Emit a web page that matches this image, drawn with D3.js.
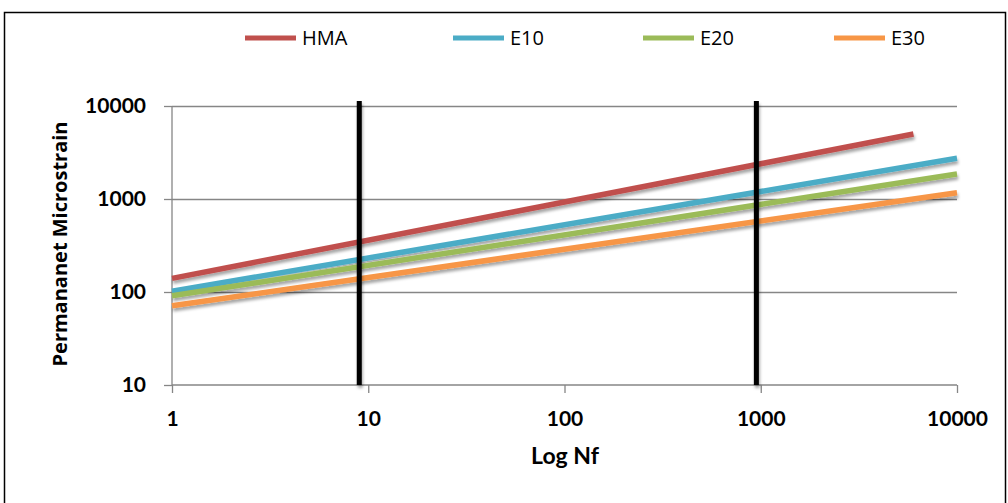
<!DOCTYPE html>
<html>
<head>
<meta charset="utf-8">
<script src="https://cdn.jsdelivr.net/npm/d3@7"></script>
<style>
  html, body { margin: 0; padding: 0; background: #fff; }
  svg { display: block; }
</style>
</head>
<body>
<svg id="chart" width="1008" height="503"></svg>
<script>
// ---- data ----
const seriesNames = ["HMA", "E10", "E20", "E30"];
const hmaX = [1, 6000];
const hmaY = [140, 5000];
const e10X = [1, 10000];
const e10Y = [102, 2740];
const e20X = [1, 10000];
const e20Y = [91, 1860];
const e30X = [1, 10000];
const e30Y = [71, 1170];
const refLinesX = [9, 950];
const refLineTop = 11300;
const xTickValues = [1, 10, 100, 1000, 10000];
const yTickValues = [10, 100, 1000, 10000];
const xTitle = "Log Nf";
const yTitle = "Permananet Microstrain";

// ---- layout ----
const colors = ["#C0504D", "#4BACC6", "#9BBB59", "#F79646"];
const svg = d3.select("#chart");
const x = d3.scaleLog().domain([1, 10000]).range([172, 957]);
const y = d3.scaleLog().domain([10, 10000]).range([385, 106]);
const fontTick = "Lato, 'Open Sans', sans-serif";

// border
svg.append("rect").attr("x", 4.5).attr("y", 12.5).attr("width", 1001).attr("height", 500)
  .attr("fill", "none").attr("stroke", "#000").attr("stroke-width", 1.5);

// shadow filter
const defs = svg.append("defs");
const f = defs.append("filter").attr("id", "shadow").attr("x", "-10%").attr("y", "-20%")
  .attr("width", "120%").attr("height", "160%");
f.append("feDropShadow").attr("dx", 1).attr("dy", 3).attr("stdDeviation", 1.6)
  .attr("flood-color", "#000").attr("flood-opacity", 0.35);

// gridlines
svg.append("g").selectAll("line").data(yTickValues.filter(v => v > 10)).join("line")
  .attr("x1", x(1)).attr("x2", x(10000))
  .attr("y1", d => Math.round(y(d)) + 0.5).attr("y2", d => Math.round(y(d)) + 0.5)
  .attr("stroke", "#868686").attr("stroke-width", 1.3);

// y axis
const yAxis = svg.append("g").attr("transform", `translate(${x(1)},0)`)
  .call(d3.axisLeft(y).tickValues(yTickValues).tickFormat(d3.format("d")).tickSize(8).tickPadding(18));
// x axis
const xAxis = svg.append("g").attr("transform", `translate(0,${y(10)})`)
  .call(d3.axisBottom(x).tickValues(xTickValues).tickFormat(d3.format("d")).tickSize(8).tickPadding(18));
[yAxis, xAxis].forEach(a => {
  a.selectAll("path.domain").attr("stroke", "#868686").attr("stroke-width", 1.3);
  a.selectAll(".tick line").attr("stroke", "#868686").attr("stroke-width", 1.3);
  a.selectAll("text").attr("fill", "#000").attr("font-family", fontTick)
    .attr("font-weight", "bold").attr("font-size", 21);
});
yAxis.select("path.domain").attr("d", `M0,${y(10)}V${y(10000)}`);
xAxis.select("path.domain").attr("d", `M${x(1)},0H${x(10000)}`);

// series lines
const seriesData = [
  hmaX.map((v, i) => [v, hmaY[i]]),
  e10X.map((v, i) => [v, e10Y[i]]),
  e20X.map((v, i) => [v, e20Y[i]]),
  e30X.map((v, i) => [v, e30Y[i]])
];
const line = d3.line().x(d => x(d[0])).y(d => y(d[1]));
const gLines = svg.append("g").attr("filter", "url(#shadow)");
seriesData.forEach((s, i) => {
  gLines.append("path").attr("d", line(s)).attr("fill", "none")
    .attr("stroke", colors[i]).attr("stroke-width", 5.5);
});

// reference vertical lines
svg.append("g").attr("filter", "url(#shadow)").selectAll("line").data(refLinesX).join("line")
  .attr("x1", d => x(d)).attr("x2", d => x(d))
  .attr("y1", y(refLineTop)).attr("y2", y(10))
  .attr("stroke", "#000").attr("stroke-width", 5);

// axis titles
svg.append("text").attr("x", 565).attr("y", 464).attr("text-anchor", "middle")
  .attr("font-family", fontTick).attr("font-weight", "bold").attr("font-size", 23).text(xTitle);
svg.append("text").attr("transform", "translate(67,244) rotate(-90)").attr("text-anchor", "middle")
  .attr("font-family", "'Open Sans', sans-serif").attr("font-weight", "bold").attr("font-size", 20)
  .text(yTitle);

// legend
const legendX = [245, 453, 643, 834];
const lg = svg.append("g");
seriesNames.forEach((n, i) => {
  lg.append("line").attr("x1", legendX[i]).attr("x2", legendX[i] + 51)
    .attr("y1", 38).attr("y2", 38).attr("stroke", colors[i]).attr("stroke-width", 5);
  lg.append("text").attr("x", legendX[i] + 57).attr("y", 45)
    .attr("font-family", "'Open Sans', sans-serif").attr("font-size", 20).attr("fill", "#000").text(n);
});
</script>
</body>
</html>
